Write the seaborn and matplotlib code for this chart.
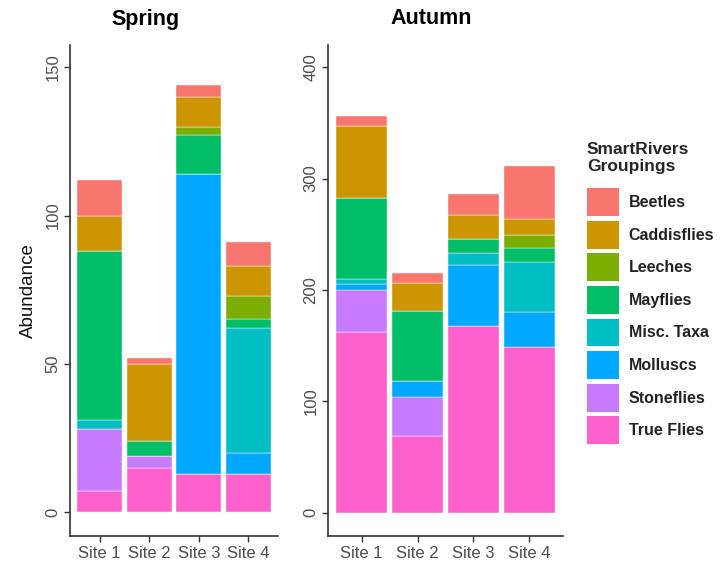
import pandas as pd
import numpy as np
import matplotlib
matplotlib.use("Agg")
import matplotlib.pyplot as plt
from matplotlib.patches import Patch
import seaborn as sns

# data
sites = ['Site 1', 'Site 2', 'Site 3', 'Site 4']
groups = ['Beetles', 'Caddisflies', 'Leeches', 'Mayflies',
          'Misc. Taxa', 'Molluscs', 'Stoneflies', 'True Flies']
colors = ['#F8766D', '#CD9600', '#7CAE00', '#00BE67',
          '#00BFC4', '#00A9FF', '#C77CFF', '#FF61CC']

# one list per group, values for Site 1..4
spring = {
    'Beetles':     [12, 2, 4, 8],
    'Caddisflies': [12, 26, 10, 10],
    'Leeches':     [0, 0, 3, 8],
    'Mayflies':    [57, 5, 13, 3],
    'Misc. Taxa':  [3, 0, 0, 42],
    'Molluscs':    [0, 0, 101, 7],
    'Stoneflies':  [21, 4, 0, 0],
    'True Flies':  [7, 15, 13, 13],
}
autumn = {
    'Beetles':     [9, 9, 19, 47],
    'Caddisflies': [64, 25, 21, 15],
    'Leeches':     [0, 0, 0, 11],
    'Mayflies':    [73, 63, 13, 13],
    'Misc. Taxa':  [5, 0, 11, 45],
    'Molluscs':    [5, 14, 54, 31],
    'Stoneflies':  [38, 35, 0, 0],
    'True Flies':  [162, 69, 168, 149],
}


def to_long(d):
    rows = []
    for g in groups:
        for s, v in zip(sites, d[g]):
            rows.append({'Site': s, 'Group': g, 'Abundance': v})
    return pd.DataFrame(rows)


sns.set_theme(style='white')
plt.rcParams['font.family'] = ['Liberation Sans', 'DejaVu Sans']

fig = plt.figure(figsize=(7.2, 5.66), dpi=100)
ax1 = fig.add_axes([70/720, 30/566, 208/720, 491/566])
ax2 = fig.add_axes([328/720, 30/566, 235/720, 491/566])

pal = dict(zip(groups, colors))

for ax, d, ylim, yticks in [(ax1, spring, (-8, 157.5), [0, 50, 100, 150]),
                            (ax2, autumn, (-21, 420), [0, 100, 200, 300, 400])]:
    df = to_long(d)
    df['Site'] = pd.Categorical(df['Site'], categories=sites)
    sns.histplot(data=df, x='Site', hue='Group', weights='Abundance',
                 hue_order=groups, palette=pal, multiple='stack',
                 discrete=True, shrink=0.9, alpha=1, linewidth=0.3,
                 edgecolor='#ffffff', legend=False, ax=ax)
    ax.set_xlim(-0.6, 3.6)
    ax.set_ylim(*ylim)
    ax.set_yticks(yticks)
    ax.set_xticks(range(len(sites)))
    ax.set_xticklabels(sites)
    ax.set_xlabel('')
    ax.set_ylabel('')
    sns.despine(ax=ax)
    for sp in ['left', 'bottom']:
        ax.spines[sp].set_color('#333333')
        ax.spines[sp].set_linewidth(1.2)
    ax.tick_params(axis='both', direction='out', length=4, width=1,
                   color='#333333', labelcolor='#4D4D4D', labelsize=12,
                   left=True, bottom=True, pad=3)
    plt.setp(ax.get_yticklabels(), rotation=90, va='center')
    ax.grid(False)

ax1.set_ylabel('Abundance', fontsize=13.5, color='#111111', labelpad=6)

fig.text(145/720, 1 - 19/566, 'Spring', ha='center', va='center',
         fontsize=15.5, fontweight='bold', color='black')
fig.text(431/720, 1 - 19/566, 'Autumn', ha='center', va='center',
         fontsize=15.5, fontweight='bold', color='black')

handles = [Patch(facecolor=c, edgecolor='none', label=g) for g, c in zip(groups, colors)]
leg = fig.legend(handles=handles, loc='upper left',
                 bbox_to_anchor=(587/720, 1 - 142/566),
                 frameon=False, borderpad=0, borderaxespad=0,
                 handlelength=2.0, handleheight=2.3, labelspacing=0.3,
                 handletextpad=0.6, alignment='left',
                 title='SmartRivers\nGroupings',
                 title_fontproperties={'weight': 'bold', 'size': 12.5},
                 prop={'weight': 'bold', 'size': 11.5})
leg._legend_box.sep = 10
for t in leg.get_texts():
    t.set_color('#222222')

fig.savefig('out.png', dpi=100)
